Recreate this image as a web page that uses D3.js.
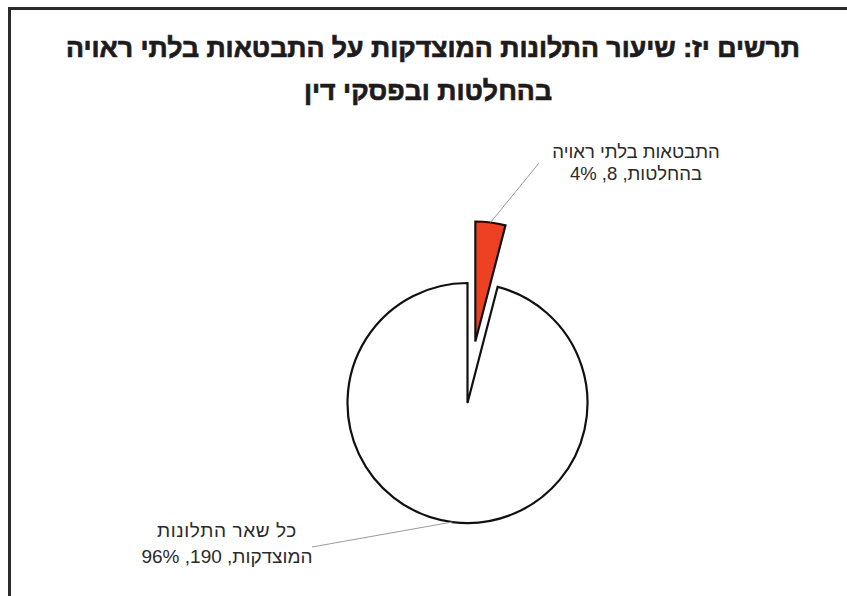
<!DOCTYPE html>
<html>
<head>
<meta charset="utf-8">
<script src="https://cdn.jsdelivr.net/npm/d3@7"></script>
<style>
  html, body { margin: 0; padding: 0; background: #fff; }
  svg { display: block; }
</style>
</head>
<body>
<svg id="chart" width="847" height="596"></svg>
<script>
// Chart data
const titleLines = ["תרשים יז: שיעור התלונות המוצדקות על התבטאות בלתי ראויה", "בהחלטות ובפסקי דין"];
const categories = ["התבטאות בלתי ראויה בהחלטות", "כל שאר התלונות המוצדקות"];
const labelHeads = ["התבטאות בלתי ראויה", "כל שאר התלונות"];
const labelTails = ["בהחלטות", "המוצדקות"];
const values = [8, 190];
const fills = ["#ee4123", "#ffffff"];

const svg = d3.select("#chart");
const W = 847, H = 596;

// Frame: top and left rules
svg.append("line").attr("x1", 8).attr("y1", 8.5).attr("x2", W).attr("y2", 8.5)
  .attr("stroke", "#2b2b2b").attr("stroke-width", 3);
svg.append("line").attr("x1", 9.5).attr("y1", 7).attr("x2", 9.5).attr("y2", H)
  .attr("stroke", "#2b2b2b").attr("stroke-width", 3);

// Title
const titleSpec = [{x: 433, y: 57, w: 734}, {x: 428, y: 100, w: 248}];
titleLines.forEach((t, i) => {
  svg.append("text")
    .attr("x", titleSpec[i].x).attr("y", titleSpec[i].y)
    .attr("direction", "rtl")
    .attr("text-anchor", "middle")
    .attr("font-family", "'Liberation Sans', Arial, sans-serif")
    .attr("font-weight", 700)
    .attr("font-size", 27)
    .attr("fill", "#1e1b1c")
    .attr("stroke", "#1e1b1c")
    .attr("stroke-width", 0.7)
    .attr("textLength", titleSpec[i].w)
    .attr("lengthAdjust", "spacingAndGlyphs")
    .text(t);
});

// Pie
const cx = 467.5, cy = 403, r = 120, explode = 62;
const total = d3.sum(values);
const pie = d3.pie().sort(null).value(d => d)(values);
const arc = d3.arc().innerRadius(0).outerRadius(r);

const g = svg.append("g").attr("transform", `translate(${cx},${cy})`);

const offsets = pie.map((p, i) => {
  if (i !== 0) return [0, 0];
  const mid = (p.startAngle + p.endAngle) / 2;
  return [Math.sin(mid) * explode, -Math.cos(mid) * explode];
});

g.selectAll("path.slice")
  .data(pie)
  .join("path")
  .attr("class", "slice")
  .attr("transform", (d, i) => `translate(${offsets[i][0]},${offsets[i][1]})`)
  .attr("d", arc)
  .attr("fill", (d, i) => fills[i])
  .attr("stroke", "#111")
  .attr("stroke-width", 2.2)
  .attr("stroke-linejoin", "miter");

// Labels with leader lines
const labelPos = [
  {x: 636, y1: 158, y2: 180, end: [539, 163], size: 18.5, spacing: 0},
  {x: 227, y1: 537, y2: 563, end: [312, 547], size: 19, spacing: 0.6}
];

pie.forEach((p, i) => {
  const mid = (p.startAngle + p.endAngle) / 2;
  const sx = cx + offsets[i][0] + Math.sin(mid) * r;
  const sy = cy + offsets[i][1] - Math.cos(mid) * r;
  svg.append("line")
    .attr("x1", sx).attr("y1", sy)
    .attr("x2", labelPos[i].end[0]).attr("y2", labelPos[i].end[1])
    .attr("stroke", "#9a9a9a").attr("stroke-width", 1);

  const pct = Math.round(values[i] / total * 100);
  const lines = [labelHeads[i], `${labelTails[i]}, ${values[i]}, ${pct}%`];
  lines.forEach((t, k) => {
    svg.append("text")
      .attr("x", labelPos[i].x)
      .attr("y", k === 0 ? labelPos[i].y1 : labelPos[i].y2)
      .attr("direction", "rtl")
      .attr("text-anchor", "middle")
      .attr("font-family", "'Liberation Sans', Arial, sans-serif")
      .attr("font-size", labelPos[i].size)
      .attr("letter-spacing", k === 0 ? labelPos[i].spacing : 0)
      .attr("fill", "#2a2a2a")
      .text(t);
  });
});
</script>
</body>
</html>
